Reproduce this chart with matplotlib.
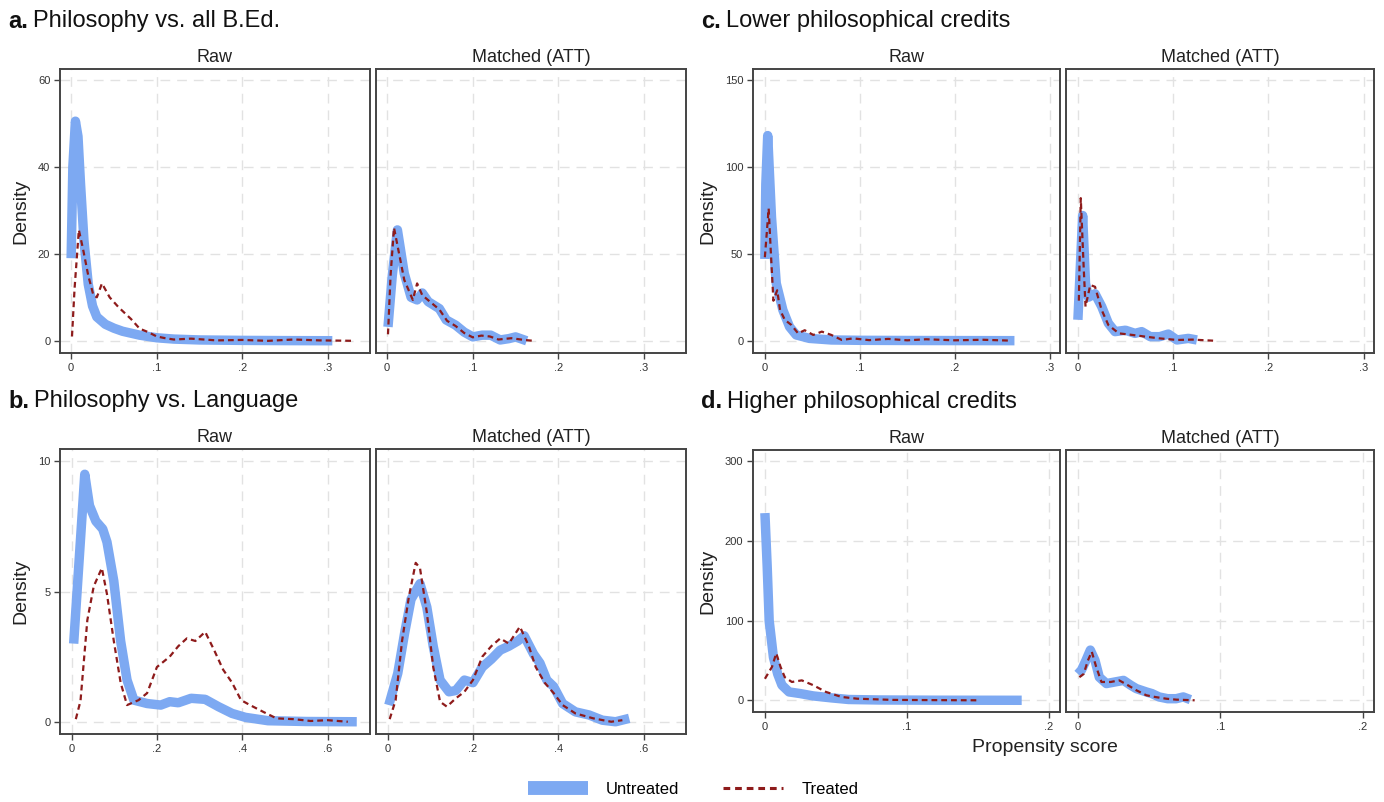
# Propensity score density plots: raw vs matched, four comparisons
import numpy as np
import matplotlib
matplotlib.use("Agg")
import matplotlib.pyplot as plt
from matplotlib import font_manager
from matplotlib.lines import Line2D

# pick a condensed font if available
try:
    font_manager.findfont("Liberation Sans Narrow", fallback_to_default=False)
    FONT = ["Liberation Sans Narrow", "DejaVu Sans"]
except Exception:
    FONT = ["Liberation Sans", "DejaVu Sans"]
plt.rcParams["font.family"] = FONT

BLUE = "#7DA9F2"
RED = "#8E1B1B"

# ---- a. Philosophy vs. all B.Ed. ----
a_raw_u_x = [0, 0.002, 0.005, 0.008, 0.011, 0.015, 0.02, 0.025, 0.03, 0.04, 0.05,
             0.06, 0.08, 0.1, 0.12, 0.15, 0.2, 0.25, 0.305]
a_raw_u_y = [19, 40, 50.5, 47, 36, 23, 13, 8, 5.5, 3.8, 2.9, 2.2, 1.3, 0.7, 0.4,
             0.2, 0.1, 0.05, 0.02]
a_raw_t_x = [0.001, 0.004, 0.009, 0.014, 0.02, 0.026, 0.03, 0.036, 0.045, 0.055,
             0.07, 0.08, 0.09, 0.1, 0.11, 0.12, 0.14, 0.17, 0.2, 0.23, 0.26, 0.29, 0.33]
a_raw_t_y = [1, 12, 25.5, 21, 15, 10.5, 10, 13.2, 10, 7.8, 5, 2.8, 2, 1, 0.6, 0.3,
             0.5, 0.1, 0.2, 0, 0.3, 0.1, 0]
a_mat_u_x = [0.001, 0.006, 0.012, 0.02, 0.028, 0.035, 0.041, 0.048, 0.061, 0.069,
             0.08, 0.09, 0.1, 0.111, 0.121, 0.132, 0.142, 0.15, 0.163]
a_mat_u_y = [3.2, 15, 25.5, 15.5, 10, 9.4, 11, 9, 7.4, 4.8, 3.6, 2, 0.9, 1.3, 1.3,
             0.2, 0.5, 0.9, 0]
a_mat_t_x = [0.001, 0.004, 0.008, 0.014, 0.02, 0.03, 0.035, 0.041, 0.05, 0.061,
             0.07, 0.08, 0.09, 0.1, 0.11, 0.12, 0.13, 0.145, 0.16, 0.171]
a_mat_t_y = [1.5, 15, 26, 20, 14, 9.4, 13.2, 10.5, 9, 7.2, 4.6, 3.4, 1.8, 0.8, 1.2,
             1.0, 0.3, 0.6, 0.2, 0]

# ---- b. Philosophy vs. Language ----
b_raw_u_x = [0.005, 0.031, 0.042, 0.057, 0.073, 0.083, 0.099, 0.115, 0.13, 0.146,
             0.177, 0.209, 0.23, 0.25, 0.28, 0.313, 0.344, 0.376, 0.407, 0.46, 0.55, 0.668]
b_raw_u_y = [3.0, 9.5, 8.3, 7.7, 7.4, 6.9, 5.4, 3.1, 1.6, 0.83, 0.7, 0.64, 0.77,
             0.73, 0.9, 0.86, 0.58, 0.32, 0.17, 0.04, 0.01, 0]
b_raw_t_x = [0.01, 0.021, 0.037, 0.052, 0.071, 0.083, 0.099, 0.115, 0.13, 0.157,
             0.177, 0.2, 0.23, 0.25, 0.27, 0.29, 0.313, 0.334, 0.355, 0.376, 0.397,
             0.418, 0.449, 0.48, 0.52, 0.56, 0.6, 0.647]
b_raw_t_y = [0.1, 0.8, 3.9, 5.2, 5.9, 4.9, 3.1, 1.5, 0.64, 0.83, 1.1, 2.1, 2.5, 2.9,
             3.2, 3.1, 3.45, 2.75, 2.0, 1.5, 0.83, 0.64, 0.38, 0.13, 0.1, 0.03, 0.06, 0]
b_mat_u_x = [0.003, 0.024, 0.04, 0.055, 0.076, 0.092, 0.107, 0.123, 0.144, 0.16,
             0.18, 0.2, 0.222, 0.243, 0.264, 0.284, 0.305, 0.32, 0.342, 0.357, 0.373,
             0.389, 0.41, 0.44, 0.472, 0.503, 0.534, 0.566]
b_mat_u_y = [0.64, 1.86, 3.4, 4.7, 5.3, 4.4, 2.9, 1.6, 1.15, 1.2, 1.6, 1.5, 2.1, 2.4,
             2.75, 2.9, 3.1, 3.3, 2.6, 2.25, 1.6, 1.35, 0.7, 0.38, 0.26, 0.06, 0, 0.13]
b_mat_t_x = [0.005, 0.019, 0.034, 0.05, 0.066, 0.076, 0.092, 0.107, 0.123, 0.139,
             0.16, 0.18, 0.2, 0.222, 0.243, 0.264, 0.284, 0.31, 0.331, 0.347, 0.368,
             0.389, 0.41, 0.44, 0.482, 0.524, 0.55]
b_mat_t_y = [0.1, 0.83, 3.1, 4.8, 6.1, 5.9, 4.2, 2.1, 0.77, 0.58, 0.9, 1.15, 1.6,
             2.5, 2.9, 3.2, 3.0, 3.65, 2.9, 2.1, 1.5, 1.1, 0.64, 0.32, 0.13, 0, 0.06]

# ---- c. Lower philosophical credits ----
c_raw_u_x = [0, 0.001, 0.003, 0.007, 0.012, 0.019, 0.026, 0.033, 0.047, 0.07, 0.1,
             0.15, 0.2, 0.263]
c_raw_u_y = [47, 90, 118, 71, 33, 17.6, 8, 3.3, 1.3, 0.4, 0.2, 0.1, 0.05, 0]
c_raw_t_x = [0, 0.004, 0.006, 0.009, 0.013, 0.016, 0.021, 0.028, 0.035, 0.042,
             0.051, 0.06, 0.07, 0.081, 0.093, 0.11, 0.13, 0.15, 0.17, 0.2, 0.23, 0.26]
c_raw_t_y = [48, 76, 54, 23, 29, 17.6, 12, 9, 4.2, 6, 3.3, 5.2, 3.3, 0.4, 1.3, 0.3,
             1.0, 0.2, 0.8, 0.2, 0.5, 0]
c_mat_u_x = [0, 0.005, 0.008, 0.011, 0.018, 0.025, 0.032, 0.039, 0.05, 0.06, 0.067,
             0.076, 0.086, 0.095, 0.104, 0.116, 0.125]
c_mat_u_y = [12, 72, 33, 25, 27, 19.6, 10, 5.2, 6, 4.2, 5.2, 2.3, 2.3, 3.8, 0.4,
             1.3, 0.4]
c_mat_t_x = [0.001, 0.003, 0.006, 0.008, 0.013, 0.018, 0.025, 0.032, 0.043, 0.057,
             0.071, 0.086, 0.104, 0.12, 0.142]
c_mat_t_y = [23, 82, 43, 19.6, 32, 31, 17.6, 9, 4.2, 3.3, 2.3, 1.3, 0.4, 0.6, 0]

# ---- d. Higher philosophical credits ----
d_raw_u_x = [0, 0.0016, 0.003, 0.006, 0.009, 0.012, 0.017, 0.025, 0.034, 0.047,
             0.059, 0.08, 0.12, 0.181]
d_raw_u_y = [235, 168, 100, 54, 33, 19, 10.5, 8.4, 5.5, 3, 1, 0.4, 0.1, 0]
d_raw_t_x = [0, 0.005, 0.008, 0.011, 0.014, 0.019, 0.026, 0.034, 0.043, 0.054,
             0.065, 0.09, 0.12, 0.149]
d_raw_t_y = [27, 42, 59, 42, 29, 23, 25, 19, 10.5, 4.2, 2, 0.5, 0.2, 0]
d_mat_u_x = [0, 0.0025, 0.0056, 0.0087, 0.012, 0.015, 0.02, 0.026, 0.032, 0.037,
             0.041, 0.048, 0.052, 0.057, 0.063, 0.069, 0.074, 0.079]
d_mat_u_y = [33, 38, 50, 63, 50, 29, 21, 23, 25, 19, 14.7, 10.5, 8.4, 4.2, 2, 2,
             4.2, 0.8]
d_mat_t_x = [0.001, 0.004, 0.007, 0.0097, 0.0128, 0.0165, 0.023, 0.029, 0.035,
             0.041, 0.048, 0.054, 0.062, 0.069, 0.082]
d_mat_t_y = [29, 33, 50, 61, 42, 23, 23, 25, 19, 12.6, 6.3, 4.2, 2, 0.8, 0]

W, H = 1384, 802
fig = plt.figure(figsize=(W / 100, H / 100), dpi=100)


def ax_at(left, top, right, bottom):
    return fig.add_axes([left / W, 1 - bottom / H, (right - left) / W, (bottom - top) / H])


def style(ax, xlim, ylim, xticks, xlabels, yticks, show_y):
    ax.set_xlim(xlim)
    ax.set_ylim(ylim)
    ax.set_xticks(xticks)
    ax.set_xticklabels(xlabels)
    ax.set_yticks(yticks)
    if show_y:
        ax.set_yticklabels([str(t) for t in yticks])
        ax.tick_params(axis="y", length=4, width=1.0, color="#444444")
    else:
        ax.tick_params(axis="y", length=0, labelleft=False)
    ax.tick_params(axis="x", length=4, width=1.0, color="#444444")
    ax.tick_params(labelsize=8, labelcolor="#333333", pad=3)
    ax.grid(True, color="#e2e2e2", linestyle=(0, (7, 5)), linewidth=1.0)
    ax.set_axisbelow(True)
    for s in ax.spines.values():
        s.set_color("#444444")
        s.set_linewidth(1.4)


def draw(ax, ux, uy, tx, ty):
    ax.plot(ux, uy, color=BLUE, linewidth=6.8, solid_capstyle="butt",
            solid_joinstyle="round")
    ax.plot(tx, ty, color=RED, linewidth=1.6, linestyle=(0, (2.6, 1.8)))


panels = [
    # letter, title, raw box (l, t, r, b), matched box, xlim, xticks, xlabels, ylim, yticks, data
    ("a.", "Philosophy vs. all B.Ed.", (60, 69, 370, 353), (376, 69, 686, 353),
     (-0.013, 0.349), [0, 0.1, 0.2, 0.3], ["0", ".1", ".2", ".3"],
     (-2.8, 62.5), [0, 20, 40, 60],
     (a_raw_u_x, a_raw_u_y, a_raw_t_x, a_raw_t_y), (a_mat_u_x, a_mat_u_y, a_mat_t_x, a_mat_t_y)),
    ("b.", "Philosophy vs. Language", (60, 449, 370, 734), (376, 449, 686, 734),
     (-0.027, 0.699), [0, 0.2, 0.4, 0.6], ["0", ".2", ".4", ".6"],
     (-0.47, 10.47), [0, 5, 10],
     (b_raw_u_x, b_raw_u_y, b_raw_t_x, b_raw_t_y), (b_mat_u_x, b_mat_u_y, b_mat_t_x, b_mat_t_y)),
    ("c.", "Lower philosophical credits", (753, 69, 1060, 353), (1066, 69, 1374, 353),
     (-0.0125, 0.311), [0, 0.1, 0.2, 0.3], ["0", ".1", ".2", ".3"],
     (-7.1, 156.3), [0, 50, 100, 150],
     (c_raw_u_x, c_raw_u_y, c_raw_t_x, c_raw_t_y), (c_mat_u_x, c_mat_u_y, c_mat_t_x, c_mat_t_y)),
    ("d.", "Higher philosophical credits", (753, 450, 1060, 712), (1066, 450, 1374, 712),
     (-0.0084, 0.208), [0, 0.1, 0.2], ["0", ".1", ".2"],
     (-14.7, 314.2), [0, 100, 200, 300],
     (d_raw_u_x, d_raw_u_y, d_raw_t_x, d_raw_t_y), (d_mat_u_x, d_mat_u_y, d_mat_t_x, d_mat_t_y)),
]

renderer = fig.canvas.get_renderer()
for letter, title, rbox, mbox, xlim, xt, xl, ylim, yt, rdata, mdata in panels:
    for box, data, name, show_y in [(rbox, rdata, "Raw", True), (mbox, mdata, "Matched (ATT)", False)]:
        ax = ax_at(*box)
        style(ax, xlim, ylim, xt, xl, yt, show_y)
        draw(ax, *data)
        ax.set_title(name, fontsize=13, pad=5, color="#222222")
        if show_y:
            ax.set_ylabel("Density", fontsize=14, labelpad=6, color="#222222")
    # panel heading: bold letter + normal text
    tx0 = rbox[0] - 52
    ty = rbox[1] - 48
    t1 = fig.text(tx0 / W, 1 - ty / H, letter, fontsize=17, fontweight="bold",
                  va="center", ha="left", color="#111111")
    bb = t1.get_window_extent(renderer)
    fig.text((bb.x1 + 5) / W, 1 - ty / H, title, fontsize=17, va="center",
             ha="left", color="#111111")

fig.text(1045 / W, 1 - 748 / H, "Propensity score", fontsize=14, ha="center",
         va="center", color="#222222")

handles = [Line2D([], [], color=BLUE, linewidth=10, solid_capstyle="butt"),
           Line2D([], [], color=RED, linewidth=2.2, linestyle=(0, (2.2, 1.6)))]
fig.legend(handles, ["Untreated", "Treated"], loc="center", ncol=2,
           bbox_to_anchor=(693 / W, 1 - 789 / H), frameon=False, fontsize=12,
           handlelength=3.6, handletextpad=1.1, columnspacing=2.6)

fig.savefig("out.png", dpi=100)
